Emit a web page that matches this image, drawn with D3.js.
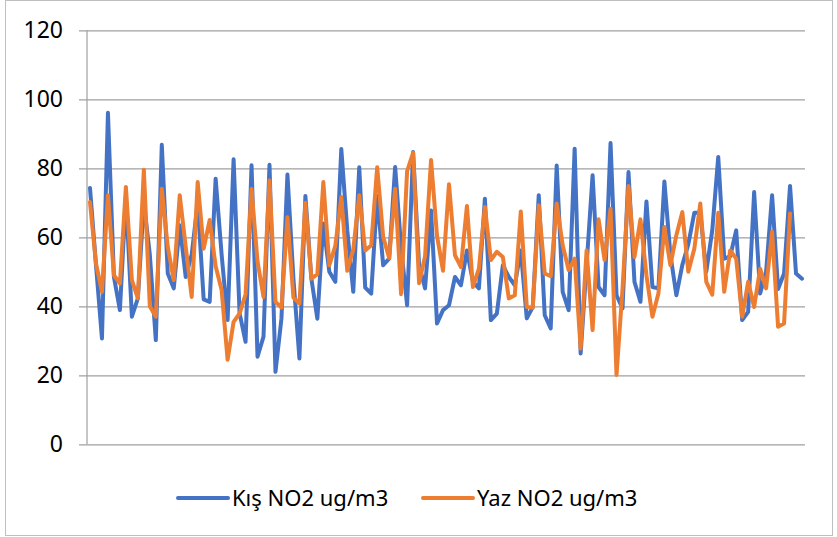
<!DOCTYPE html>
<html>
<head>
<meta charset="utf-8">
<script src="https://cdn.jsdelivr.net/npm/d3@7"></script>
<style>
  body { margin: 0; background: #fff; }
  text { font-family: "Noto Sans", "Open Sans", sans-serif; fill: #000; }
</style>
</head>
<body>
<div id="my_dataviz"></div>
<script>
// category index (one per measurement)
var days = d3.range(1, 121)

var seriesNames = ["Kış NO2 ug/m3", "Yaz NO2 ug/m3"]
var seriesColors = ["#4472C4", "#ED7D31"]
var yTicks = [0, 20, 40, 60, 80, 100, 120]

var kis = [74.3, 52, 30.7, 96.1, 48.5, 38.9, 72, 37.0, 42.3, 70,
  55, 30.2, 86.8, 49.5, 45.2, 63.5, 48.5, 55, 70, 42.0,
  41.3, 77.0, 55, 36.0, 82.6, 38, 29.7, 80.9, 25.4, 31.2,
  81.0, 21.0, 36.5, 78.2, 48, 24.9, 72.0, 48.0, 36.4, 64,
  50.0, 47.1, 85.6, 62, 44.2, 80.3, 45.4, 43.7, 72, 51.9,
  53.8, 80.4, 57, 40.3, 84.7, 52, 45.2, 67.8, 35.0, 38.9,
  40.3, 48.5, 46.1, 56.2, 47.1, 45.2, 71.2, 36.0, 37.9, 51.9,
  48.5, 46.1, 56.2, 36.5, 39.8, 72.2, 37.4, 33.6, 80.8, 44.2,
  38.9, 85.7, 26.3, 52, 78.0, 45.6, 43.2, 87.3, 43.2, 39.4,
  78.9, 47.1, 41.3, 70.4, 45.6, 45.2, 76.2, 55, 43.2, 52,
  58, 67.1, 67.1, 50, 62, 83.3, 53.8, 54.5, 62.0, 36.0,
  38.4, 73.1, 43.7, 50, 72.2, 45.0, 49.5, 74.9, 49.5, 48.0]

var yaz = [70.2, 52.4, 44.2, 72.2, 49.0, 46.6, 74.6, 47.6, 42.3, 79.6,
  40.0, 37.0, 74.1, 57.2, 47.6, 72.2, 57.2, 42.7, 76.0, 56.7,
  65.0, 51.6, 44.7, 24.5, 35.5, 37.9, 43.5, 74.0, 53, 42.7,
  76.5, 41.3, 39.6, 65.8, 42.5, 40.8, 70.0, 48.0, 49.3, 76.0,
  51.9, 57.5, 71.7, 50.3, 56.5, 72.2, 56.2, 57.7, 80.3, 60.1,
  54.0, 74.1, 43.5, 79.2, 84.5, 46.7, 54.5, 82.4, 60.4, 50.3,
  75.4, 54.8, 51.4, 69.1, 45.6, 50.9, 68.8, 53.4, 55.8, 54.3,
  42.3, 43.2, 67.5, 39.8, 39.6, 69.3, 49.5, 48.7, 69.8, 57.7,
  50.5, 53.8, 27.8, 56.2, 33.1, 65.2, 53.4, 68.3, 20.1, 45,
  74.9, 54.3, 65.2, 49.0, 37.0, 43.7, 63.0, 51.9, 60.6, 67.3,
  50.0, 56.7, 69.8, 47.1, 43.4, 67.1, 44.2, 56.2, 53.8, 37.0,
  47.1, 39.8, 50.9, 45.2, 61.6, 34.1, 35.0, 66.9]

var width = 837, height = 537
var plotLeft = 87, plotRight = 805, plotTop = 30.3, plotBottom = 444.3

var svg = d3.select("#my_dataviz").append("svg").attr("width", width).attr("height", height)

// chart border
svg.append("rect")
  .attr("x", 5.5).attr("y", 0.5)
  .attr("width", 827).attr("height", 535)
  .attr("fill", "none").attr("stroke", "#bfbfbf")

var xs = d3.scaleBand().domain(days).range([plotLeft, plotRight]).padding(0)
var ys = d3.scaleLinear().domain([0, 120]).range([plotBottom, plotTop])

// gridlines + labels
var yAxis = svg.append("g")
  .attr("transform", "translate(" + plotLeft + ",0)")
  .call(d3.axisLeft(ys).tickValues(yTicks).tickSize(-(plotRight - plotLeft)).tickPadding(24))
yAxis.select(".domain").remove()
yAxis.selectAll(".tick line")
  .attr("x1", -8)
  .attr("stroke", "#a0a0a0").attr("stroke-width", 1.2)
yAxis.selectAll(".tick text")
  .style("font-size", "23px")
  .attr("fill", "#000")

// vertical axis line
svg.append("line")
  .attr("x1", plotLeft).attr("x2", plotLeft)
  .attr("y1", plotTop).attr("y2", plotBottom)
  .attr("stroke", "#a0a0a0").attr("stroke-width", 1.2)

var line = d3.line()
  .defined(function (d) { return d != null })
  .x(function (d, i) { return xs(days[i]) + xs.bandwidth() / 2 })
  .y(function (d) { return ys(d) })

var allSeries = [kis, yaz]
allSeries.forEach(function (vals, k) {
  svg.append("path")
    .datum(vals)
    .attr("d", line)
    .attr("fill", "none")
    .attr("stroke", seriesColors[k])
    .attr("stroke-width", 4)
    .attr("stroke-linejoin", "round")
    .attr("stroke-linecap", "round")
})

// legend
var legendX = [178, 423]
var legend = svg.append("g")
seriesNames.forEach(function (name, k) {
  legend.append("line")
    .attr("x1", legendX[k]).attr("x2", legendX[k] + 50)
    .attr("y1", 498).attr("y2", 498)
    .attr("stroke", seriesColors[k]).attr("stroke-width", 4)
    .attr("stroke-linecap", "round")
  legend.append("text")
    .attr("x", legendX[k] + 54).attr("y", 498)
    .attr("dy", "0.35em")
    .style("font-size", "22px")
    .text(name)
})
</script>
</body>
</html>
